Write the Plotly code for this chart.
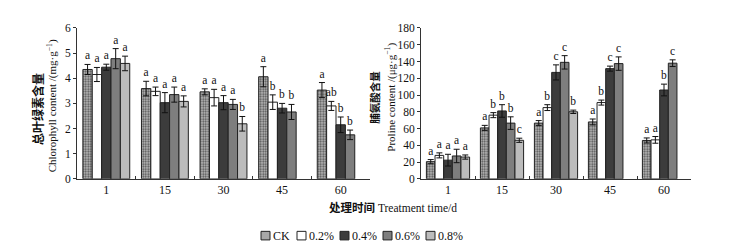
import plotly.graph_objects as go

# ---------------- data ----------------
days = ["1", "15", "30", "45", "60"]
series = ["CK", "0.2%", "0.4%", "0.6%", "0.8%"]

# Chlorophyll content (mg/g)
chl_ck = [4.35, 3.59, 3.46, 4.06, 3.53]
chl_02 = [4.15, 3.48, 3.23, 3.05, 2.90]
chl_04 = [4.44, 3.03, 3.03, 2.81, 2.15]
chl_06 = [4.78, 3.35, 2.96, 2.66, 1.75]
chl_08 = [4.59, 3.08, 2.19, None, None]
chl_err_ck = [0.20, 0.29, 0.12, 0.40, 0.30]
chl_err_02 = [0.28, 0.17, 0.33, 0.29, 0.18]
chl_err_04 = [0.12, 0.40, 0.28, 0.19, 0.31]
chl_err_06 = [0.40, 0.30, 0.20, 0.30, 0.19]
chl_err_08 = [0.29, 0.22, 0.29, None, None]
chl_sig_ck = ["a", "a", "a", "a", "a"]
chl_sig_02 = ["a", "a", "a", "b", "ab"]
chl_sig_04 = ["a", "a", "a", "b", "b"]
chl_sig_06 = ["a", "a", "a", "b", "b"]
chl_sig_08 = ["a", "a", "b", None, None]

# Proline content (ug/g)
pro_ck = [20.5, 60.8, 66.5, 67.9, 45.8]
pro_02 = [28.0, 76.0, 85.0, 91.0, 46.5]
pro_04 = [22.3, 81.0, 127.0, 131.5, 106.0]
pro_06 = [27.3, 66.5, 139.0, 137.5, 138.0]
pro_08 = [26.0, 46.0, 80.0, None, None]
pro_err_ck = [2.5, 3.0, 3.0, 3.5, 3.0]
pro_err_02 = [3.0, 3.0, 3.5, 3.0, 4.0]
pro_err_04 = [7.0, 7.5, 9.0, 3.0, 7.0]
pro_err_06 = [8.0, 7.5, 8.0, 8.0, 4.0]
pro_err_08 = [2.5, 2.5, 2.0, None, None]
pro_sig_ck = ["a", "a", "a", "a", "a"]
pro_sig_02 = ["a", "b", "b", "b", "a"]
pro_sig_04 = ["a", "b", "c", "c", "b"]
pro_sig_06 = ["a", "b", "c", "c", "c"]
pro_sig_08 = ["a", "c", "b", None, None]

# ---------------- styling ----------------
W, H = 737, 246
SERIF = "Liberation Serif, Times New Roman, Noto Sans CJK SC"
fills = ["#a8a8a8", "#ffffff", "#3c3c3c", "#7e7e7e", "#bcbcbc"]
EDGE = "#222222"

chl_vals = [chl_ck, chl_02, chl_04, chl_06, chl_08]
chl_errs = [chl_err_ck, chl_err_02, chl_err_04, chl_err_06, chl_err_08]
chl_sigs = [chl_sig_ck, chl_sig_02, chl_sig_04, chl_sig_06, chl_sig_08]
pro_vals = [pro_ck, pro_02, pro_04, pro_06, pro_08]
pro_errs = [pro_err_ck, pro_err_02, pro_err_04, pro_err_06, pro_err_08]
pro_sigs = [pro_sig_ck, pro_sig_02, pro_sig_04, pro_sig_06, pro_sig_08]

fig = go.Figure()


def add_panel(vals, errs, sigs, xa, ya, tiny):
    for i, name in enumerate(series):
        marker = dict(color=fills[i], line=dict(color=EDGE, width=1))
        if i == 0:
            marker["pattern"] = dict(shape=".", fgcolor="#505050", bgcolor="#bdbdbd",
                                     size=2.5, solidity=0.45, fillmode="replace")
        fig.add_trace(go.Bar(
            x=days, y=vals[i], name=name, xaxis=xa, yaxis=ya,
            offsetgroup=str(i), marker=marker, showlegend=False,
            error_y=dict(type="data", array=errs[i], visible=True,
                         color="#111111", thickness=1, width=3),
        ))
        tops = [None if v is None else v + e for v, e in zip(vals[i], errs[i])]
        fig.add_trace(go.Bar(
            x=days, y=[None if t is None else tiny for t in tops], base=tops,
            text=[s if s is not None else "" for s in sigs[i]],
            textposition="outside", constraintext="none",
            textfont=dict(family=SERIF, size=11.5, color="#111111"),
            cliponaxis=False, offsetgroup=str(i), xaxis=xa, yaxis=ya,
            marker=dict(color="rgba(0,0,0,0)", line=dict(width=0)),
            showlegend=False, hoverinfo="skip",
        ))


add_panel(chl_vals, chl_errs, chl_sigs, "x", "y", 1e-4)
add_panel(pro_vals, pro_errs, pro_sigs, "x2", "y2", 1e-3)

y_dom = [1 - 173.3 / H, 1 - 14.7 / H]
xcommon = dict(type="category", showline=True, linecolor="#333333", linewidth=1,
               ticks="inside", ticklen=3, tickcolor="#333333", tickson="boundaries",
               showgrid=False, zeroline=False,
               tickfont=dict(family=SERIF, size=12, color="#111111"))
ycommon = dict(showline=True, linecolor="#333333", linewidth=1, ticks="outside",
               ticklen=3, tickcolor="#333333", showgrid=False, zeroline=False,
               tickfont=dict(family=SERIF, size=11.5, color="#111111"))

fig.update_layout(
    width=W, height=H,
    margin=dict(l=0, r=0, t=0, b=0),
    paper_bgcolor="white", plot_bgcolor="white",
    barmode="group", bargap=0.2, bargroupgap=0,
    showlegend=False,
    font=dict(family=SERIF, color="#111111"),
    xaxis=dict(domain=[69 / W, 362 / W], anchor="y", **xcommon),
    yaxis=dict(domain=y_dom, anchor="x", range=[0, 6], dtick=1, **ycommon),
    xaxis2=dict(domain=[413 / W, 683 / W], anchor="y2", **xcommon),
    yaxis2=dict(domain=y_dom, anchor="x2", range=[0, 180], dtick=20, **ycommon),
)

ann = []


def label(text, px, py, size, angle=0, xanchor="center"):
    ann.append(dict(text=text, x=px / W, y=1 - py / H, xref="paper", yref="paper",
                    showarrow=False, textangle=angle, xanchor=xanchor, yanchor="middle",
                    font=dict(family=SERIF, size=size, color="#111111")))


label("<b>总叶绿素含量</b>", 30, 100, 12, -90)
label("Chlorophyll content /(mg·g<sup>−1</sup>)", 44, 97, 11, -90)
label("<b>脯氨酸含量</b>", 367, 88, 10.5, -90)
label("Proline content /(μg·g<sup>−1</sup>)", 383, 88, 11, -90)
label("<b>处理时间</b> Treatment time/d", 385, 203, 11.5)

# manual legend
leg_x = [253, 289, 332, 375, 418]
leg_y = 233
shapes = []
for i, name in enumerate(series):
    x0 = leg_x[i]
    shapes.append(dict(type="rect", xref="paper", yref="paper",
                       x0=x0 / W, x1=(x0 + 9) / W,
                       y0=1 - (leg_y + 4.5) / H, y1=1 - (leg_y - 4.5) / H,
                       fillcolor=fills[i],
                       line=dict(color=EDGE, width=1)))
    label(name, x0 + 10, leg_y, 12, 0, "left")

fig.update_layout(annotations=ann, shapes=shapes)
fig.write_html("out.html")
